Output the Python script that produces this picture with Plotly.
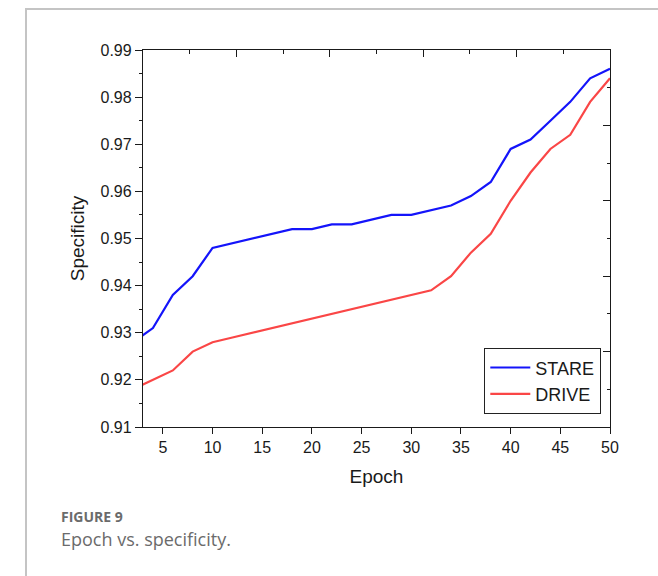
import numpy as np
import plotly.graph_objects as go

# ---- data ----
epochs = [2, 4, 6, 8, 10, 12, 14, 16, 18, 20, 22, 24, 26, 28, 30, 32, 34, 36, 38, 40, 42, 44, 46, 48, 50]
stare = [0.928, 0.931, 0.938, 0.942, 0.948, 0.949, 0.950, 0.951, 0.952, 0.952, 0.953, 0.953, 0.954,
         0.955, 0.955, 0.956, 0.957, 0.959, 0.962, 0.969, 0.971, 0.975, 0.979, 0.984, 0.986]
drive = [0.918, 0.920, 0.922, 0.926, 0.928, 0.929, 0.930, 0.931, 0.932, 0.933, 0.934, 0.935, 0.936,
         0.937, 0.938, 0.939, 0.942, 0.947, 0.951, 0.958, 0.964, 0.969, 0.972, 0.979, 0.984]
series_names = ["STARE", "DRIVE"]
x_ticks = [5, 10, 15, 20, 25, 30, 35, 40, 45, 50]
y_ticks = [0.91, 0.92, 0.93, 0.94, 0.95, 0.96, 0.97, 0.98, 0.99]
x_range = [3, 50]
y_range = [0.91, 0.99]

# ---- layout geometry ----
W, H = 658, 576
L, R, T, B = 143, 610, 50, 427
pw, ph = R - L, B - T

def px(xp):
    return (xp - L) / pw

def py(yp):
    return (B - yp) / ph

FONT = "Liberation Sans"
AX = "#1a1a1a"

fig = go.Figure()
fig.add_trace(go.Scatter(x=epochs, y=stare, mode="lines", name=series_names[0],
                         line=dict(color="rgb(20,20,250)", width=2.2)))
fig.add_trace(go.Scatter(x=epochs, y=drive, mode="lines", name=series_names[1],
                         line=dict(color="rgb(250,70,70)", width=2.2)))
# helper trace so the mirror (top/right) axes are drawn
fig.add_trace(go.Scatter(x=[None], y=[None], xaxis="x2", yaxis="y2", showlegend=False,
                         hoverinfo="skip"))

top_major = list(np.linspace(x_range[0], x_range[1], 6))
top_minor = [(a + b) / 2 for a, b in zip(top_major[:-1], top_major[1:])]
right_major = list(np.linspace(y_range[0], y_range[1], 6))
right_minor = [(a + b) / 2 for a, b in zip(right_major[:-1], right_major[1:])]

fig.update_layout(
    width=W, height=H,
    margin=dict(l=L, r=W - R, t=T, b=H - B),
    paper_bgcolor="white", plot_bgcolor="white",
    font=dict(family=FONT, color=AX, size=16),
    showlegend=True,
    legend=dict(x=px(601), y=py(414), xanchor="right", yanchor="bottom",
                bordercolor="#222", borderwidth=1.3, bgcolor="white",
                font=dict(size=18, family=FONT, color=AX),
                tracegroupgap=0, itemwidth=40),
    xaxis=dict(range=x_range, tickvals=x_ticks, ticks="outside", ticklen=6, tickwidth=1.3,
               tickcolor=AX, showline=True, linecolor=AX, linewidth=1.3, showgrid=False,
               zeroline=False, tickfont=dict(size=16),
               title=dict(text="Epoch", font=dict(size=19), standoff=14)),
    yaxis=dict(range=y_range, tickvals=y_ticks, tickformat=".2f", ticks="outside", ticklen=7,
               tickwidth=1.3, tickcolor=AX, showline=True, linecolor=AX, linewidth=1.3,
               showgrid=False, zeroline=False, tickfont=dict(size=16),
               minor=dict(dtick=0.005, tick0=0.91, ticks="outside", ticklen=3, tickwidth=1.3,
                          tickcolor=AX, showgrid=False),
               title=dict(text="Specificity", font=dict(size=19), standoff=10)),
    xaxis2=dict(range=x_range, overlaying="x", side="top", anchor="y2", tickvals=top_major,
                showticklabels=False, ticks="inside", ticklen=7, tickwidth=1.3, tickcolor=AX,
                showline=True, linecolor=AX, linewidth=1.3, showgrid=False, zeroline=False,
                minor=dict(tickvals=top_minor, ticks="inside", ticklen=4, tickwidth=1.3,
                           tickcolor=AX, showgrid=False)),
    yaxis2=dict(range=y_range, overlaying="y", side="right", anchor="x2", tickvals=right_major,
                showticklabels=False, ticks="inside", ticklen=7, tickwidth=1.3, tickcolor=AX,
                showline=True, linecolor=AX, linewidth=1.3, showgrid=False, zeroline=False,
                minor=dict(tickvals=right_minor, ticks="inside", ticklen=3, tickwidth=1.3,
                           tickcolor=AX, showgrid=False)),
)

# page frame lines
fig.add_shape(type="line", xref="paper", yref="paper", x0=px(25), x1=px(658), y0=py(9), y1=py(9),
              line=dict(color="#8a8a8a", width=1.2))
fig.add_shape(type="line", xref="paper", yref="paper", x0=px(26), x1=px(26), y0=py(9), y1=py(576),
              line=dict(color="#c4c4c4", width=2))

# caption
CAP = "Open Sans, Lato, sans-serif"
fig.add_annotation(text="<b>FIGURE 9</b>", xref="paper", yref="paper", x=px(59), y=py(516),
                   xanchor="left", yanchor="middle", showarrow=False,
                   font=dict(family=CAP, size=14, color="#6b6b6b"))
fig.add_annotation(text="Epoch vs. specificity.", xref="paper", yref="paper", x=px(59), y=py(539),
                   xanchor="left", yanchor="middle", showarrow=False,
                   font=dict(family=CAP, size=18, color="#6b6b6b"))

fig.write_html("out.html")
